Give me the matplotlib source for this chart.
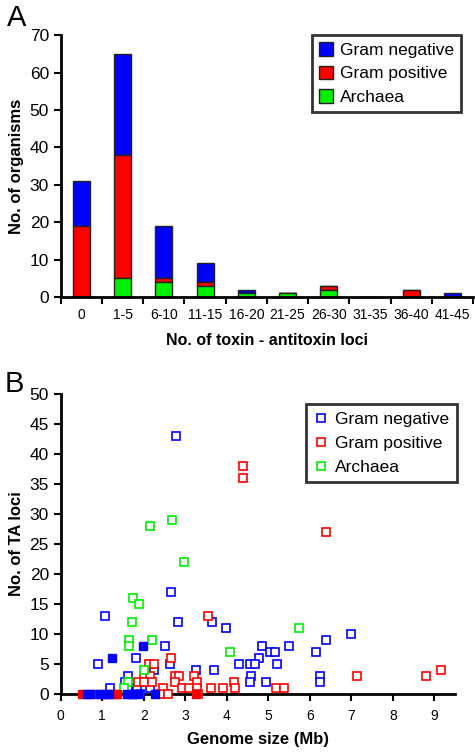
import matplotlib
matplotlib.use('Agg')
import matplotlib.pyplot as plt
import numpy as np

plt.rcParams['font.family'] = ['Liberation Sans', 'DejaVu Sans']

# panel A: organisms per toxin-antitoxin loci bin
bins = ['0', '1-5', '6-10', '11-15', '16-20', '21-25', '26-30', '31-35', '36-40', '41-45']
archaea = [0, 5, 4, 3, 1, 1, 2, 0, 0, 0]
gram_pos = [19, 33, 1, 1, 0, 0, 1, 0, 2, 0]
gram_neg = [12, 27, 14, 5, 1, 0, 0, 0, 0, 1]

# panel B: genome size (Mb) vs number of TA loci
neg_x = [2.78, 2.66, 2.82, 1.06, 3.64, 3.99, 7.0, 6.38, 2.5, 4.84, 5.5, 5.05, 5.17, 6.15,
         1.8, 4.78, 0.89, 2.62, 4.3, 4.57, 4.67, 5.22, 2.24, 3.25, 3.7, 1.63, 4.59, 6.24,
         1.54, 2.06, 4.57, 4.95, 6.24, 1.18, 1.62, 1.83, 2.16, 1.9]
neg_y = [43, 17, 12, 13, 12, 11, 10, 9, 8, 8, 8, 7, 7, 7,
         6, 6, 5, 5, 5, 5, 5, 5, 4, 4, 4, 3, 3, 3,
         2, 2, 2, 2, 2, 1, 1, 1, 1, 0]
neg_fill_x = [1.24, 1.97, 0.62, 0.7, 0.95, 1.1, 1.15, 1.6, 1.68, 1.75, 1.85, 2.27]
neg_fill_y = [6, 8, 0, 0, 0, 0, 0, 0, 0, 0, 0, 0]

pos_x = [4.38, 4.38, 6.4, 3.55, 2.66, 2.13, 2.25, 7.13, 8.8, 9.15,
         2.01, 2.15, 2.76, 2.86, 3.2, 1.85, 2.0, 2.19, 2.76, 3.28, 4.17,
         2.47, 2.93, 3.1, 3.28, 3.62, 3.91, 4.19, 5.19, 5.38, 2.4, 2.58, 3.3]
pos_y = [38, 36, 27, 13, 6, 5, 5, 3, 3, 4,
         3, 3, 3, 3, 3, 2, 2, 2, 2, 2, 2,
         1, 1, 1, 1, 1, 1, 1, 1, 1, 0, 0, 0]
pos_fill_x = [0.52, 0.82, 1.05, 1.27, 1.35, 3.25]
pos_fill_y = [0, 0, 0, 0, 0, 0]

arc_x = [2.68, 2.16, 2.97, 1.75, 1.89, 1.72, 5.73, 1.64, 2.2, 1.64, 4.07, 2.0, 1.63, 1.52]
arc_y = [29, 28, 22, 16, 15, 12, 11, 9, 9, 8, 7, 4, 2, 1]

BLUE = '#0000ff'
RED = '#ff0000'
GREEN = '#00ee00'

fig = plt.figure(figsize=(4.75, 7.52), dpi=100)

# ---- panel A
axA = fig.add_axes([0.128, 0.605, 0.868, 0.348])
x = np.arange(len(bins))
w = 0.41
arc = np.array(archaea)
pos = np.array(gram_pos)
neg = np.array(gram_neg)
axA.bar(x, neg, w, bottom=arc + pos, color=BLUE, edgecolor='#222222', lw=1,
        label='Gram negative')
axA.bar(x, pos, w, bottom=arc, color=RED, edgecolor='#222222', lw=1,
        label='Gram positive')
axA.bar(x, arc, w, color=GREEN, edgecolor='#222222', lw=1, label='Archaea')
axA.set_xlim(-0.5, 9.5)
axA.set_ylim(0, 70)
axA.set_yticks(range(0, 71, 10))
axA.set_xticks(x)
axA.set_xticklabels(bins, fontsize=10)
axA.set_xticks(np.arange(-0.5, 10, 1), minor=True)
axA.tick_params(axis='x', which='major', length=0, pad=8)
axA.tick_params(axis='x', which='minor', length=5, width=1.5)
axA.tick_params(axis='y', labelsize=12.5, length=5, width=1.5)
for s in ['top', 'right']:
    axA.spines[s].set_visible(False)
for s in ['left', 'bottom']:
    axA.spines[s].set_linewidth(2)
axA.set_ylabel('No. of organisms', fontsize=12, fontweight='bold', labelpad=4)
axA.set_xlabel('No. of toxin - antitoxin loci', fontsize=11.5, fontweight='bold',
               labelpad=8)
leg = axA.legend(loc='upper right', bbox_to_anchor=(0.97, 1.0), borderaxespad=0,
                 fancybox=False, edgecolor='black', fontsize=12.5,
                 handlelength=0.8, handleheight=0.8, handletextpad=0.4,
                 labelspacing=0.45, borderpad=0.4)
leg.get_frame().set_linewidth(2)

# ---- panel B
axB = fig.add_axes([0.128, 0.077, 0.83, 0.399])
mk = dict(marker='s', ms=5.5, mew=1.2, ls='none', mfc='white', clip_on=False,
          zorder=3)
axB.plot(neg_x, neg_y, mec=BLUE, label='Gram negative', **mk)
axB.plot(pos_x, pos_y, mec=RED, label='Gram positive', **mk)
axB.plot(arc_x, arc_y, mec=GREEN, label='Archaea', **mk)
axB.plot(pos_fill_x, pos_fill_y, marker='s', ms=5.5, ls='none', color=RED,
         clip_on=False, zorder=3)
axB.plot(neg_fill_x, neg_fill_y, marker='s', ms=5.5, ls='none', color=BLUE,
         clip_on=False, zorder=3)
axB.set_xlim(0, 9.5)
axB.set_ylim(0, 50)
axB.set_xticks(range(0, 10))
axB.set_yticks(range(0, 51, 5))
axB.tick_params(axis='x', labelsize=10, length=5, width=1.5, pad=6)
axB.tick_params(axis='y', labelsize=12.5, length=5, width=1.5)
for s in ['top', 'right']:
    axB.spines[s].set_visible(False)
for s in ['left', 'bottom']:
    axB.spines[s].set_linewidth(2)
axB.set_ylabel('No. of TA loci', fontsize=12, fontweight='bold', labelpad=4)
axB.set_xlabel('Genome size (Mb)', fontsize=12, fontweight='bold', labelpad=6)
leg = axB.legend(loc='upper right', bbox_to_anchor=(1.005, 0.967), borderaxespad=0,
                 fancybox=False, edgecolor='black', fontsize=12.5,
                 handlelength=0.8, handletextpad=0.4, labelspacing=0.5,
                 borderpad=0.45, markerscale=1.0)
leg.get_frame().set_linewidth(2)

fig.text(0.015, 0.995, 'A', fontsize=21, va='top', ha='left')
fig.text(0.01, 0.508, 'B', fontsize=21, va='top', ha='left')

fig.savefig('out.png', dpi=100)
